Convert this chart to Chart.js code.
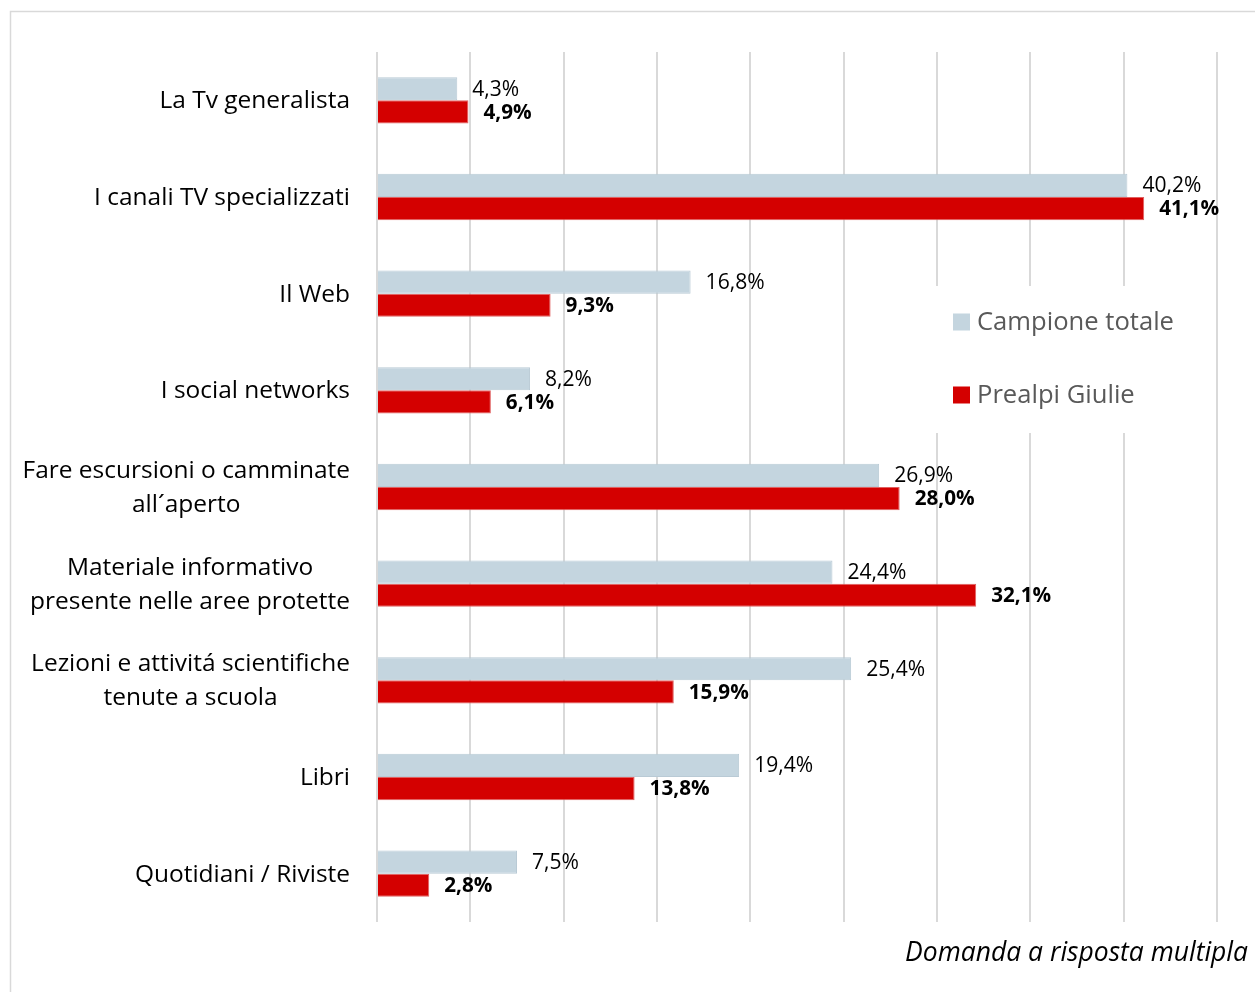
<!DOCTYPE html>
<html><head><meta charset="utf-8">
<script src="https://cdn.jsdelivr.net/npm/chart.js@4"></script>
<style>html,body{margin:0;padding:0;background:#fff;overflow:hidden}</style>
</head><body>
<canvas id="c" width="1255" height="992"></canvas>
<script>
const categories = [
  ["La Tv generalista"],
  ["I canali TV specializzati"],
  ["Il Web"],
  ["I social networks"],
  ["Fare escursioni o camminate", "all´aperto"],
  ["Materiale informativo", "presente nelle aree protette"],
  ["Lezioni e attivitá scientifiche", "tenute a scuola"],
  ["Libri"],
  ["Quotidiani / Riviste"]
];
const campioneTotale = [4.3, 40.2, 16.8, 8.2, 26.9, 24.4, 25.4, 19.4, 7.5];
const prealpiGiulie = [4.9, 41.1, 9.3, 6.1, 28.0, 32.1, 15.9, 13.8, 2.8];
const seriesNames = ["Campione totale", "Prealpi Giulie"];
const footnote = "Domanda a risposta multipla";
const axisMin = 0, axisMax = 45, axisStep = 5;

const FONT = "'Open Sans', 'Noto Sans', sans-serif";
const GRAY = "#c4d5df", RED = "#d40000";
const fmt = v => v.toFixed(1).replace('.', ',') + '%';

// font size chosen so that a reference string gets a given width
function fitFont(ctx, text, target, prefix) {
  ctx.font = prefix + "100px " + FONT;
  const s = 100 * target / ctx.measureText(text).width;
  return prefix + s.toFixed(2) + "px " + FONT;
}

const framePlugin = {
  id: 'frame',
  beforeDraw(chart) {
    const ctx = chart.ctx;
    ctx.save();
    ctx.fillStyle = '#fff';
    ctx.fillRect(0, 0, chart.width, chart.height);
    ctx.strokeStyle = '#d9d9d9';
    ctx.lineWidth = 1.5;
    ctx.strokeRect(10.5, 11.5, chart.width + 20, chart.height + 20);
    ctx.restore();
  },
  afterDraw(chart) {
    const ctx = chart.ctx, y = chart.scales.y;
    ctx.save();
    ctx.fillStyle = '#000';
    ctx.textBaseline = 'middle';
    ctx.font = fitFont(ctx, "I canali TV specializzati", 256, "");
    const right = chart.chartArea.left - 27, lh = 34;
    categories.forEach((lines, i) => {
      const cy = y.getPixelForValue(i);
      const w = Math.max(...lines.map(l => ctx.measureText(l).width));
      const cx = right - w / 2;
      ctx.textAlign = 'center';
      lines.forEach((l, k) => {
        ctx.fillText(l, cx, cy + (k - (lines.length - 1) / 2) * lh + 1);
      });
    });
    ctx.font = fitFont(ctx, footnote, 343, "italic ");
    ctx.textAlign = 'right';
    ctx.fillText(footnote, 1248, 953);
    ctx.restore();
  }
};

const legendPlugin = {
  id: 'boxLegend',
  beforeDatasetsDraw(chart) {
    const ctx = chart.ctx;
    ctx.save();
    ctx.fillStyle = '#fff';
    ctx.fillRect(929, 286, 272, 147);
    ctx.font = fitFont(ctx, "Campione totale", 197, "");
    ctx.textBaseline = 'middle';
    ctx.textAlign = 'left';
    const ys = [322, 395];
    chart.data.datasets.forEach((ds, i) => {
      ctx.fillStyle = ds.backgroundColor;
      ctx.fillRect(953, ys[i] - 8.5, 17, 17);
      ctx.fillStyle = '#595959';
      ctx.fillText(ds.label, 977, ys[i] + 1);
    });
    ctx.restore();
  }
};

const valuePlugin = {
  id: 'values',
  afterDatasetsDraw(chart) {
    const ctx = chart.ctx;
    ctx.save();
    ctx.textBaseline = 'middle';
    ctx.textAlign = 'left';
    ctx.fillStyle = '#000';
    const fonts = [fitFont(ctx, "40,2%", 59, ""), fitFont(ctx, "41,1%", 60, "bold ")];
    chart.data.datasets.forEach((ds, di) => {
      const meta = chart.getDatasetMeta(di);
      ctx.font = fonts[di];
      meta.data.forEach((el, i) => {
        ctx.fillText(fmt(ds.data[i]), el.x + 15, el.y + 1);
      });
    });
    ctx.restore();
  }
};

new Chart(document.getElementById('c'), {
  type: 'bar',
  data: {
    labels: categories,
    datasets: [
      { label: seriesNames[0], data: campioneTotale, backgroundColor: GRAY, borderColor: '#b9cad5', borderWidth: 1 },
      { label: seriesNames[1], data: prealpiGiulie, backgroundColor: RED, borderColor: '#e06060', borderWidth: 1 }
    ]
  },
  options: {
    indexAxis: 'y',
    responsive: false,
    animation: false,
    devicePixelRatio: 1,
    layout: { padding: { left: 377, right: 38, top: 52, bottom: 70 } },
    datasets: { bar: { categoryPercentage: 0.48, barPercentage: 1 } },
    plugins: { legend: { display: false }, tooltip: { enabled: false } },
    scales: {
      x: {
        min: axisMin, max: axisMax,
        ticks: { display: false, stepSize: axisStep },
        grid: { color: '#d9d9d9', lineWidth: 2, drawTicks: false },
        border: { display: false }
      },
      y: { display: false }
    }
  },
  plugins: [framePlugin, legendPlugin, valuePlugin]
});
</script>
</body></html>
